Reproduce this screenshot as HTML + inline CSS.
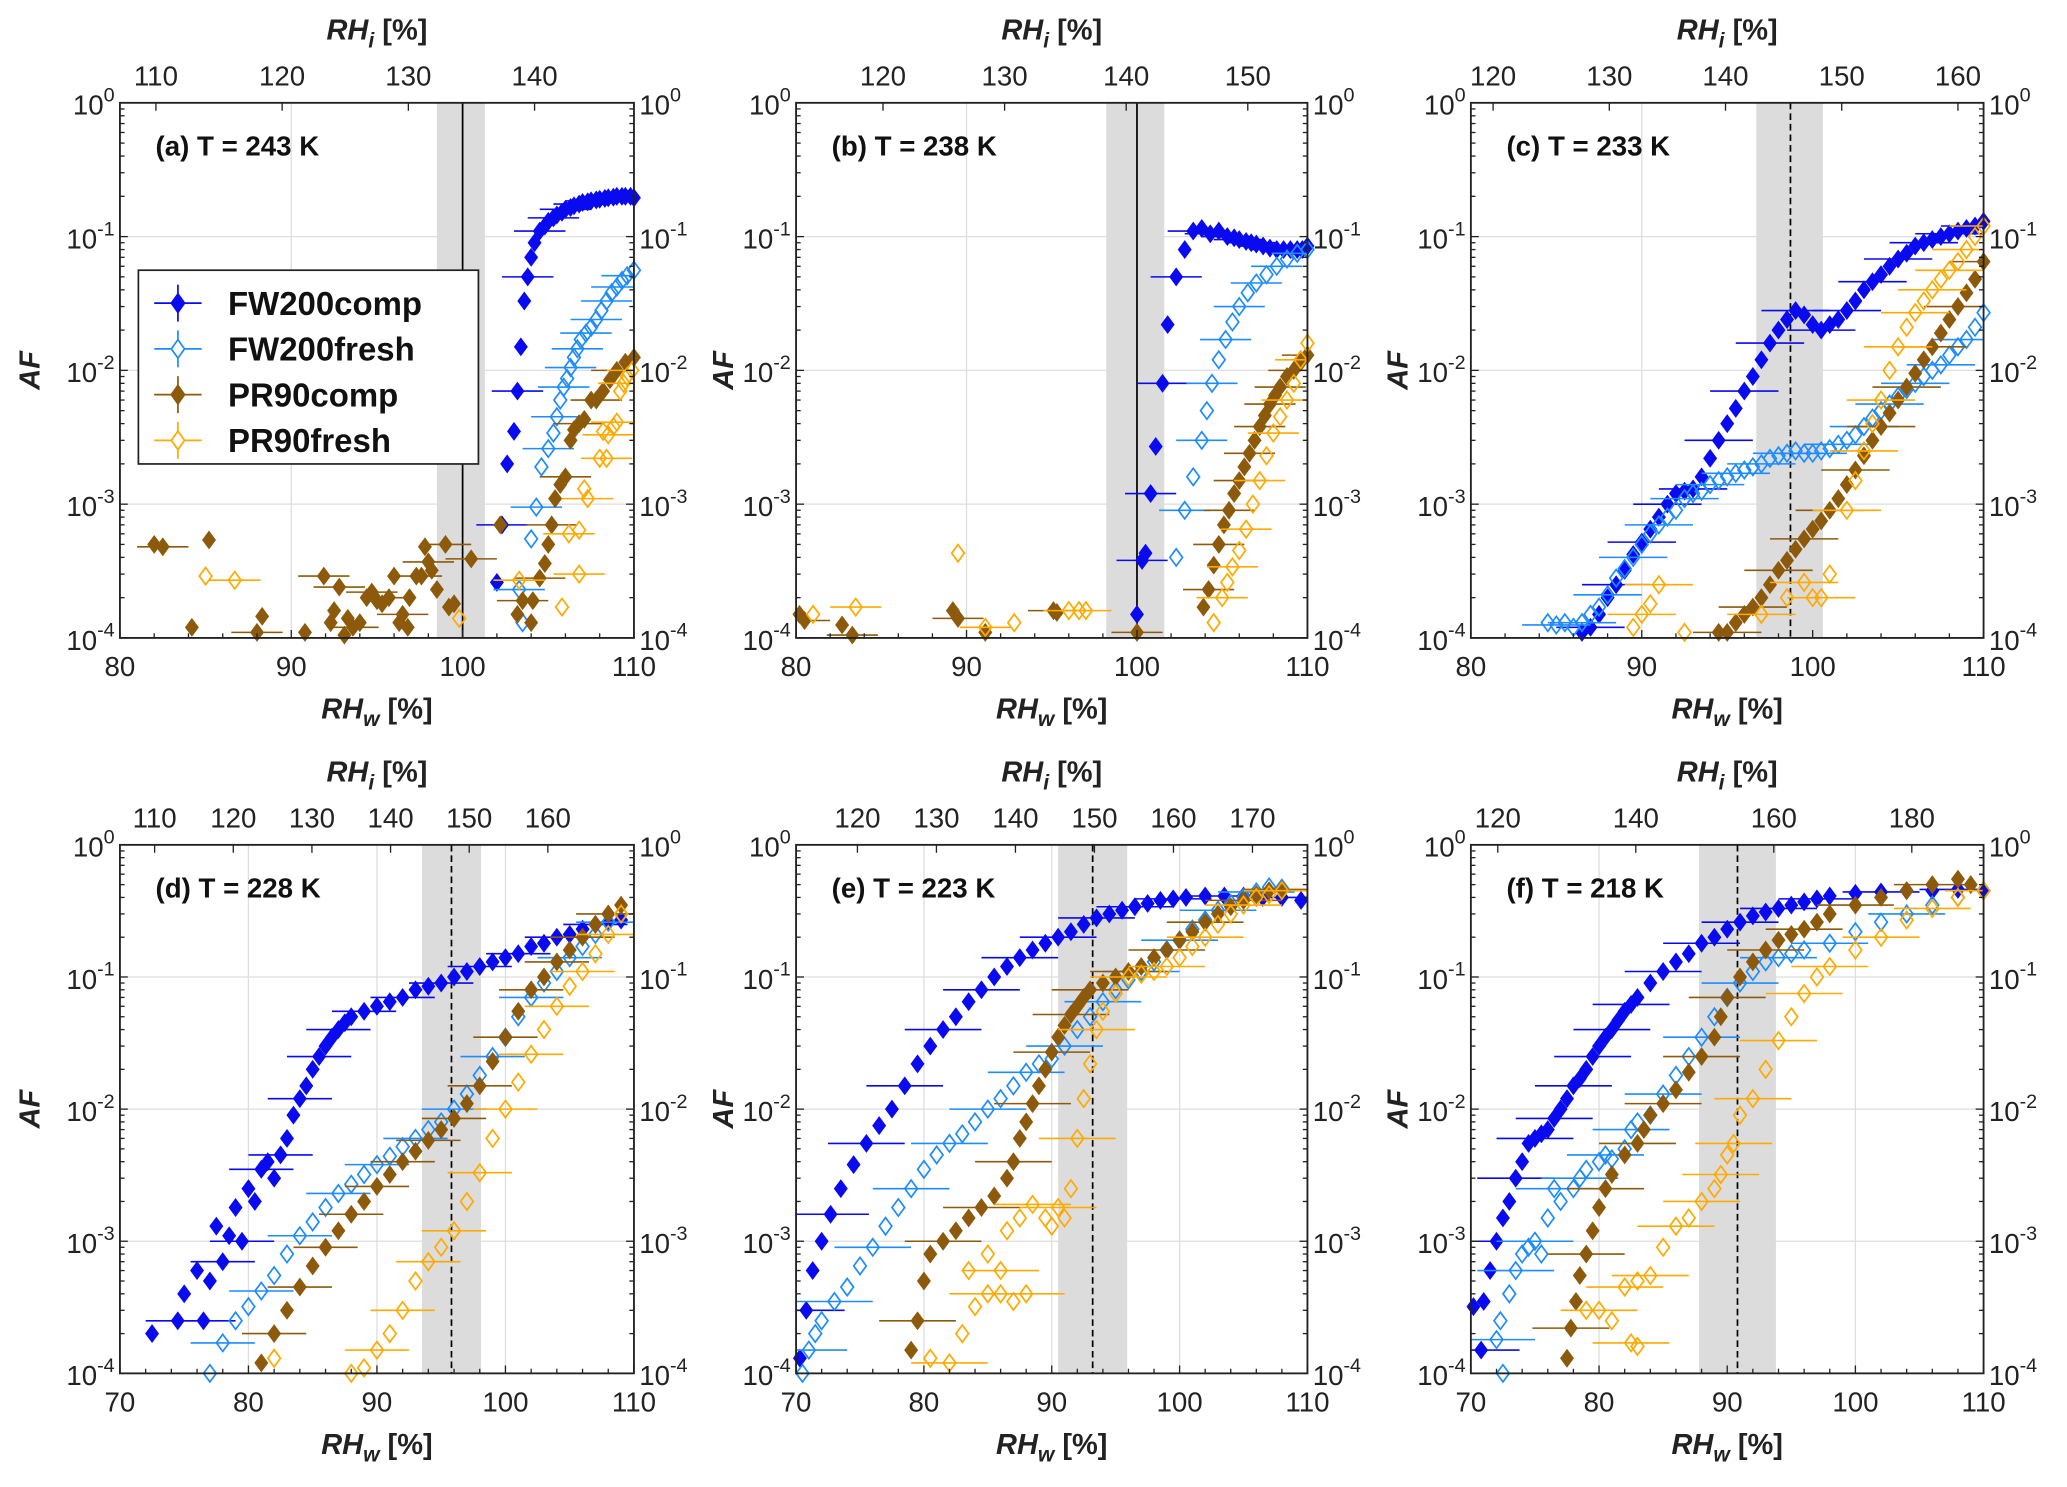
<!DOCTYPE html>
<html><head><meta charset="utf-8"><style>
html,body{margin:0;padding:0;background:#fff;}
svg{display:block;font-family:"Liberation Sans",Arial,sans-serif;}
</style></head><body>
<svg id="fig" xmlns="http://www.w3.org/2000/svg" width="2067" height="1487" viewBox="0 0 1568.3 1128.2"></svg>
<script>
// ---------- data ----------
const panelLabels = ["(a) T = 243 K","(b) T = 238 K","(c) T = 233 K","(d) T = 228 K","(e) T = 223 K","(f) T = 218 K"];
const xMinVals = [80,80,80,70,70,70];
const xTickVals = [[80,90,100,110],[80,90,100,110],[80,90,100,110],[70,80,90,100,110],[70,80,90,100,110],[70,80,90,100,110]];
const topTickVals = [[110,120,130,140],[120,130,140,150],[120,130,140,150,160],[110,120,130,140,150,160],[120,130,140,150,160,170],[120,140,160,180]];
// RHw (bottom axis) equivalents of the first and last RHi tick
const topTickRHw = [[82.1,104.2],[85.1,106.5],[81.3,108.5],[72.7,103.3],[74.8,105.7],[72.1,104.4]];
const bandLo = [98.5,98.2,96.7,93.5,90.5,87.8];
const bandHi = [101.3,101.6,100.6,98.1,95.9,93.8];
const refLine = [100,100,98.7,95.8,93.2,90.8];
const refDashed = [false,false,true,true,true,true];
const yTickExps = [0,-1,-2,-3,-4];
const seriesNames = ["FW200comp","FW200fresh","PR90comp","PR90fresh"];
const seriesColors = ["#0a0af0","#1e8cff","#8c5a0a","#ffaa00"];
const seriesFilled = [true,false,true,false];
const errHalf = [[1.5,1.5,1.5,1.5],[1.5,1.5,1.5,1.5],[2,2,2,2],[2.5,2.5,2.5,2.5],[3,3,3,3],[3,3,3,3]];

const a_fwComp=[[102,2.6e-4],[102.3,7e-4],[102.6,2e-3],[103,3.5e-3],[103.2,7e-3],[103.4,1.5e-2],[103.6,3.3e-2],[103.8,5e-2],[104,7e-2],[104.2,9e-2],[104.5,1.1e-1],[104.8,1.2e-1],[105,1.3e-1],[105.3,1.38e-1],[105.5,1.45e-1],[105.8,1.52e-1],[106,1.6e-1],[106.3,1.65e-1],[106.5,1.7e-1],[106.8,1.75e-1],[107,1.8e-1],[107.3,1.82e-1],[107.5,1.85e-1],[107.8,1.88e-1],[108,1.9e-1],[108.3,1.93e-1],[108.5,1.95e-1],[108.8,1.97e-1],[109,2e-1],[109.3,2e-1],[109.5,2e-1],[109.8,2e-1],[110,1.95e-1]];
const a_fwFresh=[[103.5,1.3e-4],[103.3,2.3e-4],[104,5.5e-4],[104.3,9.5e-4],[104.6,1.9e-3],[105,2.6e-3],[105.3,3.4e-3],[105.5,4.5e-3],[105.7,6e-3],[105.9,7.5e-3],[106.1,8.7e-3],[106.3,1.05e-2],[106.5,1.25e-2],[106.7,1.45e-2],[106.9,1.7e-2],[107.2,1.9e-2],[107.5,2.1e-2],[107.8,2.4e-2],[108.1,2.8e-2],[108.4,3.3e-2],[108.7,3.8e-2],[109,4.2e-2],[109.3,4.7e-2],[109.6,5.1e-2],[110,5.6e-2]];
const a_prComp=[[82,5e-4],[82.5,4.8e-4],[84.2,1.2e-4],[85.2,5.4e-4],[88,1.1e-4],[88.3,1.45e-4],[90.8,1.1e-4],[91.9,2.9e-4],[92.3,1.3e-4],[92.5,1.6e-4],[92.8,2.4e-4],[93.1,1.05e-4],[93.3,1.4e-4],[93.6,1.2e-4],[94,1.3e-4],[94.4,2e-4],[94.7,2.2e-4],[95,1.9e-4],[95.3,1.8e-4],[95.7,2e-4],[96,2.9e-4],[96.3,1.3e-4],[96.5,1.5e-4],[96.8,1.2e-4],[96.9,2e-4],[97.3,2.9e-4],[97.6,2.9e-4],[97.8,4.8e-4],[98,3.7e-4],[98.2,3.2e-4],[98.5,2.3e-4],[99,5e-4],[99.2,1.7e-4],[99.5,1.8e-4],[100.5,3.9e-4],[102.2,7e-4],[103.2,1.5e-4],[103.5,1.9e-4],[104,1.3e-4],[104.1,1.9e-4],[104.5,2.8e-4],[104.8,3.6e-4],[105,5e-4],[105.2,7e-4],[105.4,1.1e-3],[105.7,1.4e-3],[106,1.6e-3],[106.3,3e-3],[106.5,3.6e-3],[106.8,4e-3],[107.1,4.3e-3],[107.5,6e-3],[107.8,6e-3],[108.2,7e-3],[108.6,8.5e-3],[109,1e-2],[109.5,1.15e-2],[110,1.25e-2]];
const a_prFresh=[[85,2.9e-4],[86.7,2.7e-4],[99.8,1.4e-4],[103.3,2.7e-4],[105.8,1.7e-4],[106.2,6e-4],[106.8,6.4e-4],[106.8,3e-4],[107.1,1.3e-3],[107.3,1.1e-3],[108,2.2e-3],[108.4,2.2e-3],[108.2,3.5e-3],[108.5,3.3e-3],[108.8,3.8e-3],[109,4.1e-3],[109.2,7e-3],[109.4,8e-3],[109.6,9e-3],[109.9,1e-2]];

const b_fwComp=[[100,1.5e-4],[100.3,3.8e-4],[100.5,4.3e-4],[100.8,1.2e-3],[101.1,2.7e-3],[101.5,8e-3],[101.8,2.2e-2],[102.3,5e-2],[102.8,8e-2],[103.3,1.1e-1],[103.8,1.15e-1],[104.3,1.05e-1],[104.8,1.1e-1],[105.3,1e-1],[105.7,9.8e-2],[106,9.5e-2],[106.4,9.2e-2],[106.7,9e-2],[107,8.8e-2],[107.4,8.5e-2],[107.8,8.2e-2],[108.2,8e-2],[108.6,8e-2],[109,8e-2],[109.4,8e-2],[109.7,8e-2],[110,8.5e-2]];
const b_fwFresh=[[102.3,4e-4],[102.8,9e-4],[103.3,1.6e-3],[103.8,3e-3],[104.1,5e-3],[104.4,8e-3],[104.8,1.2e-2],[105.2,1.7e-2],[105.6,2.3e-2],[106,3e-2],[106.5,3.8e-2],[107,4.5e-2],[107.6,5.2e-2],[108.2,6e-2],[108.8,6.8e-2],[109.4,7.5e-2],[110,8e-2]];
const b_prComp=[[80.2,1.5e-4],[80.5,1.35e-4],[82.7,1.25e-4],[83.3,1.05e-4],[89.2,1.6e-4],[89.5,1.4e-4],[91.1,1.1e-4],[95.1,1.6e-4],[95.3,1.55e-4],[100,1.1e-4],[103.9,1.7e-4],[104.2,2.3e-4],[104.5,3.5e-4],[104.8,5e-4],[105.1,7e-4],[105.4,9e-4],[105.7,1.2e-3],[106,1.5e-3],[106.3,1.9e-3],[106.6,2.4e-3],[106.9,3e-3],[107.2,3.8e-3],[107.5,4.6e-3],[107.8,5.6e-3],[108.1,6.5e-3],[108.4,7.5e-3],[108.8,9e-3],[109.2,1e-2],[109.6,1.15e-2],[110,1.3e-2]];
const b_prFresh=[[81,1.5e-4],[83.5,1.7e-4],[89.5,4.3e-4],[91.1,1.2e-4],[92.8,1.3e-4],[96,1.6e-4],[96.6,1.6e-4],[97,1.6e-4],[104.5,1.3e-4],[105,2e-4],[105.3,2.6e-4],[105.6,3.4e-4],[106,4.5e-4],[106.4,6.5e-4],[106.8,1e-3],[107.2,1.5e-3],[107.6,2.3e-3],[108,3.4e-3],[108.4,4.5e-3],[108.8,6e-3],[109.2,8e-3],[109.6,1.2e-2],[110,1.6e-2]];

const c_fwComp=[[86.5,1.1e-4],[87,1.2e-4],[87.5,1.5e-4],[88,2e-4],[88.5,2.5e-4],[89,3.2e-4],[89.5,4.2e-4],[90,5.2e-4],[90.5,6.5e-4],[91,8e-4],[91.5,1e-3],[92,1.2e-3],[92.5,1.25e-3],[93,1.3e-3],[93.5,1.6e-3],[94,2.2e-3],[94.5,3e-3],[95,4e-3],[95.5,5.2e-3],[96,7e-3],[96.5,9e-3],[97,1.2e-2],[97.5,1.6e-2],[98,2e-2],[98.5,2.4e-2],[99,2.8e-2],[99.5,2.6e-2],[100,2.2e-2],[100.5,2e-2],[101,2.2e-2],[101.5,2.4e-2],[102,2.8e-2],[102.5,3.3e-2],[103,4e-2],[103.5,4.6e-2],[104,5.2e-2],[104.5,6e-2],[105,6.8e-2],[105.5,7.5e-2],[106,8.5e-2],[106.5,9e-2],[107,9.5e-2],[107.5,1e-1],[108,1.05e-1],[108.5,1.1e-1],[109,1.15e-1],[109.5,1.2e-1],[110,1.3e-1]];
const c_fwFresh=[[84.5,1.3e-4],[85,1.25e-4],[85.5,1.3e-4],[86,1.2e-4],[86.5,1.3e-4],[87,1.5e-4],[87.5,1.7e-4],[88,2.1e-4],[88.5,2.8e-4],[89,3.3e-4],[89.5,4e-4],[90,5e-4],[90.5,6e-4],[91,7e-4],[91.5,8e-4],[92,9e-4],[92.5,1.1e-3],[93,1.2e-3],[93.5,1.25e-3],[94,1.4e-3],[94.5,1.5e-3],[95,1.6e-3],[95.5,1.7e-3],[96,1.8e-3],[96.5,1.9e-3],[97,2e-3],[97.5,2.2e-3],[98,2.3e-3],[98.5,2.4e-3],[99,2.5e-3],[99.5,2.4e-3],[100,2.4e-3],[100.5,2.5e-3],[101,2.6e-3],[101.5,2.8e-3],[102,3e-3],[102.5,3.3e-3],[103,3.8e-3],[103.5,4.4e-3],[104,5e-3],[104.5,5.6e-3],[105,6.4e-3],[105.5,7.2e-3],[106,8e-3],[106.5,9e-3],[107,1e-2],[107.5,1.1e-2],[108,1.3e-2],[108.5,1.5e-2],[109,1.7e-2],[109.5,2.1e-2],[110,2.7e-2]];
const c_prComp=[[94.5,1.1e-4],[95,1.1e-4],[95.5,1.3e-4],[96,1.5e-4],[96.5,1.7e-4],[97,2e-4],[97.5,2.5e-4],[98,3.2e-4],[98.5,3.8e-4],[99,4.6e-4],[99.5,5.5e-4],[100,6.5e-4],[100.5,7.5e-4],[101,9e-4],[101.5,1.1e-3],[102,1.4e-3],[102.5,1.8e-3],[103,2.3e-3],[103.5,3e-3],[104,3.8e-3],[104.5,4.8e-3],[105,6e-3],[105.5,7.5e-3],[106,9.5e-3],[106.5,1.2e-2],[107,1.5e-2],[107.5,1.9e-2],[108,2.4e-2],[108.5,3e-2],[109,3.8e-2],[109.5,4.8e-2],[110,6.5e-2]];
const c_prFresh=[[89.5,1.2e-4],[90,1.5e-4],[90.5,1.8e-4],[91,2.5e-4],[92.5,1.1e-4],[97,1.5e-4],[98.5,2e-4],[99.5,2.6e-4],[100,2e-4],[100.5,2e-4],[101,3e-4],[102,9e-4],[102.5,1.5e-3],[103,2.5e-3],[103.5,4e-3],[104,6e-3],[104.5,1e-2],[105,1.5e-2],[105.5,2.1e-2],[106,2.7e-2],[106.5,3.3e-2],[107,4e-2],[107.5,4.8e-2],[108,5.6e-2],[108.5,6.5e-2],[109,8e-2],[109.5,1e-1],[110,1.2e-1]];

const d_fwComp=[[72.5,2e-4],[74.5,2.5e-4],[75,4e-4],[76,6e-4],[76.5,2.5e-4],[77,5e-4],[77.5,1.3e-3],[78,7e-4],[78.5,1.1e-3],[79,1.8e-3],[79.5,1e-3],[80,2.5e-3],[80.5,2e-3],[81,3.5e-3],[81.5,4e-3],[82,3e-3],[82.5,4.5e-3],[83,6e-3],[83.5,9e-3],[84,1.2e-2],[84.5,1.5e-2],[85,2e-2],[85.5,2.5e-2],[86,3e-2],[86.5,3.5e-2],[87,4e-2],[87.5,4.5e-2],[88,5e-2],[89,5.5e-2],[90,6e-2],[91,6.5e-2],[92,7e-2],[93,8e-2],[94,8.5e-2],[95,9e-2],[96,1e-1],[97,1.1e-1],[98,1.2e-1],[99,1.3e-1],[100,1.4e-1],[101,1.5e-1],[102,1.7e-1],[103,1.8e-1],[104,2e-1],[105,2.1e-1],[106,2.3e-1],[107,2.5e-1],[108,2.6e-1],[109,2.7e-1]];
const d_fwFresh=[[77,1e-4],[78,1.7e-4],[79,2.5e-4],[80,3.2e-4],[81,4.2e-4],[82,5.5e-4],[83,8e-4],[84,1.1e-3],[85,1.4e-3],[86,1.8e-3],[87,2.3e-3],[88,2.7e-3],[89,3.2e-3],[90,3.8e-3],[91,4.4e-3],[92,5.2e-3],[93,6e-3],[94,7e-3],[95,8e-3],[96,1e-2],[97,1.3e-2],[98,1.8e-2],[99,2.5e-2],[100,3.5e-2],[101,5e-2],[102,7e-2],[103,9e-2],[104,1.1e-1],[105,1.4e-1],[106,1.7e-1],[107,2.1e-1],[108,2.6e-1],[109,3e-1]];
const d_prComp=[[81,1.2e-4],[82,2e-4],[83,3e-4],[84,4.5e-4],[85,6.5e-4],[86,9e-4],[87,1.2e-3],[88,1.6e-3],[89,2e-3],[90,2.6e-3],[91,3.2e-3],[92,4e-3],[93,4.8e-3],[94,5.8e-3],[95,7e-3],[96,8.5e-3],[97,1.1e-2],[98,1.5e-2],[99,2.3e-2],[100,3.5e-2],[101,5.5e-2],[102,8e-2],[103,1e-1],[104,1.3e-1],[105,1.6e-1],[106,2e-1],[107,2.5e-1],[108,3e-1],[109,3.5e-1]];
const d_prFresh=[[82,1.3e-4],[88,1e-4],[89,1.1e-4],[90,1.5e-4],[91,2e-4],[92,3e-4],[93,5e-4],[94,7e-4],[95,9e-4],[96,1.2e-3],[97,2e-3],[98,3.3e-3],[99,6e-3],[100,1e-2],[101,1.6e-2],[102,2.6e-2],[103,4e-2],[104,6e-2],[105,8.5e-2],[106,1.1e-1],[107,1.5e-1],[108,2.1e-1],[109,3e-1]];

const e_fwComp=[[70.3,1.3e-4],[70.8,3e-4],[71.3,6e-4],[72,1e-3],[72.7,1.6e-3],[73.5,2.5e-3],[74.5,3.8e-3],[75.5,5.5e-3],[76.5,7.5e-3],[77.5,1e-2],[78.5,1.5e-2],[79.5,2.2e-2],[80.5,3e-2],[81.5,4e-2],[82.5,5e-2],[83.5,6.5e-2],[84.5,8e-2],[85.5,1e-1],[86.5,1.2e-1],[87.5,1.4e-1],[88.5,1.6e-1],[89.5,1.8e-1],[90.5,2e-1],[91.5,2.2e-1],[92.5,2.5e-1],[93.5,2.8e-1],[94.5,3e-1],[95.5,3.2e-1],[96.5,3.4e-1],[97.5,3.6e-1],[98.5,3.8e-1],[99.5,3.9e-1],[100.5,4e-1],[102,4.1e-1],[103.5,4.1e-1],[105,4.1e-1],[106.5,4e-1],[108,4e-1],[109.5,3.8e-1]];
const e_fwFresh=[[70.5,1e-4],[71,1.5e-4],[71.5,2e-4],[72,2.5e-4],[73,3.5e-4],[74,4.5e-4],[75,6.5e-4],[76,9e-4],[77,1.3e-3],[78,1.8e-3],[79,2.5e-3],[80,3.5e-3],[81,4.5e-3],[82,5.5e-3],[83,6.5e-3],[84,8e-3],[85,1e-2],[86,1.2e-2],[87,1.5e-2],[88,1.9e-2],[89,2.2e-2],[90,2.4e-2],[91,3e-2],[92,4e-2],[93,5e-2],[94,6.5e-2],[95,8e-2],[96,9.5e-2],[97,1.1e-1],[98,1.3e-1],[99,1.6e-1],[100,1.9e-1],[101,2.3e-1],[102,2.7e-1],[103,3.2e-1],[104,3.6e-1],[105,4e-1],[106,4.4e-1],[107,4.8e-1],[108,4.7e-1]];
const e_prComp=[[79,1.5e-4],[79.5,2.5e-4],[80,5e-4],[80.5,8e-4],[81.5,1e-3],[82.5,1.2e-3],[83.5,1.5e-3],[84.5,1.8e-3],[85.5,2.2e-3],[86.5,3e-3],[87,4e-3],[87.5,6e-3],[88,8e-3],[88.5,1.1e-2],[89,1.5e-2],[89.5,2e-2],[90,2.7e-2],[90.5,3.5e-2],[91,4.3e-2],[91.5,5.2e-2],[92,6e-2],[92.5,7e-2],[93,8e-2],[94,9e-2],[95,1e-1],[96,1.1e-1],[97,1.2e-1],[98,1.4e-1],[99,1.6e-1],[100,1.9e-1],[101,2.2e-1],[102,2.6e-1],[103,3e-1],[104,3.4e-1],[105,3.8e-1],[106,4.2e-1],[107,4.5e-1],[108,4.6e-1]];
const e_prFresh=[[80.5,1.3e-4],[82,1.2e-4],[83,2e-4],[84,3.2e-4],[85,4e-4],[86,4e-4],[87,3.5e-4],[88,4e-4],[83.5,6e-4],[85,8e-4],[86,6e-4],[86.5,1.2e-3],[87.5,1.5e-3],[88.5,1.9e-3],[89.5,1.5e-3],[90,1.3e-3],[90.5,1.8e-3],[91,1.5e-3],[91.5,2.5e-3],[92,6e-3],[92.5,1.2e-2],[93,2.2e-2],[93.5,4e-2],[94,5.5e-2],[95,7.5e-2],[96,1e-1],[97,1.05e-1],[98,1.1e-1],[99,1.2e-1],[100,1.4e-1],[101,1.7e-1],[102,2e-1],[103,2.5e-1],[104,3e-1],[105,3.5e-1],[106,4e-1],[107,4.2e-1],[108,4.5e-1]];

const f_fwComp=[[70.2,3.2e-4],[70.8,1.5e-4],[71,3.5e-4],[71.5,6e-4],[72,1e-3],[72.5,1.5e-3],[73,2e-3],[73.5,3e-3],[74,4e-3],[74.5,5.5e-3],[75,6e-3],[75.5,6.5e-3],[76,7e-3],[76.5,8.5e-3],[77,1e-2],[77.5,1.2e-2],[78,1.5e-2],[78.5,1.7e-2],[79,2e-2],[79.5,2.5e-2],[80,3e-2],[80.5,3.5e-2],[81,4e-2],[81.5,4.7e-2],[82,5.5e-2],[82.5,6.2e-2],[83,7e-2],[84,9e-2],[85,1.1e-1],[86,1.3e-1],[87,1.5e-1],[88,1.8e-1],[89,2e-1],[90,2.3e-1],[91,2.6e-1],[92,2.9e-1],[93,3.1e-1],[94,3.3e-1],[95,3.5e-1],[96,3.7e-1],[97,3.9e-1],[98,4.1e-1],[100,4.3e-1],[102,4.4e-1],[104,4.5e-1],[106,4.5e-1],[108,4.6e-1],[110,4.5e-1]];
const f_fwFresh=[[72.5,1e-4],[72,1.8e-4],[72.3,2.5e-4],[73,4e-4],[73.5,6e-4],[74,8e-4],[74.5,9e-4],[75,1e-3],[75.5,8e-4],[76,1.5e-3],[76.5,2.5e-3],[77,2e-3],[78,2.5e-3],[78.5,3e-3],[79,3.5e-3],[80,4e-3],[80.5,4.5e-3],[81,4.2e-3],[82,5e-3],[82.5,7e-3],[83,8e-3],[84,9e-3],[85,1.3e-2],[86,1.8e-2],[87,2.5e-2],[88,3.5e-2],[89,5e-2],[90,7e-2],[91,9e-2],[92,1.1e-1],[93,1.3e-1],[94,1.4e-1],[95,1.5e-1],[96,1.6e-1],[98,1.8e-1],[100,2.2e-1],[102,2.6e-1],[104,3e-1],[106,3.5e-1],[108,4e-1],[110,4.5e-1]];
const f_prComp=[[77.5,1.3e-4],[77.8,2.2e-4],[78.2,3.5e-4],[78.5,5.5e-4],[79,8e-4],[79.5,1.2e-3],[80,1.8e-3],[80.5,2.5e-3],[81,3.2e-3],[82,4.5e-3],[83,5.5e-3],[83.5,7e-3],[84,9e-3],[85,1.1e-2],[86,1.4e-2],[87,1.9e-2],[88,2.5e-2],[89,3.5e-2],[89.5,5e-2],[90,7e-2],[91,1e-1],[92,1.3e-1],[93,1.6e-1],[94,1.9e-1],[95,2.1e-1],[96,2.3e-1],[97,2.6e-1],[98,3e-1],[100,3.5e-1],[102,4e-1],[104,4.5e-1],[106,5e-1],[108,5.5e-1],[109,5e-1]];
const f_prFresh=[[79,3e-4],[80,3e-4],[81,2.5e-4],[82.5,1.7e-4],[83,1.6e-4],[82,4.5e-4],[83,5e-4],[84,5.5e-4],[85,9e-4],[86,1.3e-3],[87,1.5e-3],[88,2e-3],[89,2.5e-3],[89.5,3.2e-3],[90,4.5e-3],[90.5,5.5e-3],[91,9e-3],[92,1.2e-2],[93,2e-2],[94,3.3e-2],[95,5e-2],[96,7.5e-2],[97,1e-1],[98,1.2e-1],[100,1.6e-1],[102,2e-1],[104,2.7e-1],[106,3.3e-1],[108,4e-1],[110,4.5e-1]];

const panelSeries=[[a_fwComp,a_fwFresh,a_prComp,a_prFresh],[b_fwComp,b_fwFresh,b_prComp,b_prFresh],[c_fwComp,c_fwFresh,c_prComp,c_prFresh],[d_fwComp,d_fwFresh,d_prComp,d_prFresh],[e_fwComp,e_fwFresh,e_prComp,e_prFresh],[f_fwComp,f_fwFresh,f_prComp,f_prFresh]];

// ---------- layout ----------
const colL=[91,604,1116], colR=[481,992,1505];
const rowT=[78,641], rowB=[484,1042];
const afOffset=[69,56,56];
const NS="http://www.w3.org/2000/svg";
const svg=document.getElementById('fig');
function mk(tag,attrs,parent){const e=document.createElementNS(NS,tag);for(const k in attrs)e.setAttribute(k,attrs[k]);(parent||svg).appendChild(e);return e;}

for(let p=0;p<6;p++){
  const col=p%3,row=Math.floor(p/3);
  const L=colL[col],R=colR[col],T=rowT[row],B=rowB[row];
  const x0=xMinVals[p],x1=110;
  const sx=v=>L+(v-x0)/(x1-x0)*(R-L);
  const sy=v=>B-(Math.log10(v)+4)/4*(B-T);
  const g=mk('g',{});
  
  
  xTickVals[p].forEach(v=>{const l=mk('line',{x1:sx(v),x2:sx(v),y1:T,y2:B,stroke:'#dedede','stroke-width':1},g);
    });
  yTickExps.forEach(e=>{const l=mk('line',{x1:L,x2:R,y1:sy(Math.pow(10,e)),y2:sy(Math.pow(10,e)),stroke:'#dedede','stroke-width':1},g);
    });
  const band=mk('rect',{x:sx(bandLo[p]),y:T,width:sx(bandHi[p])-sx(bandLo[p]),height:B-T,fill:'#dcdcdc'},g);
  
  const rl=mk('line',{x1:sx(refLine[p]),x2:sx(refLine[p]),y1:T,y2:B,stroke:'#000','stroke-width':1.3},g);
  if(refDashed[p])rl.setAttribute('stroke-dasharray','5,3');
  
  panelSeries[p].forEach((data,s)=>{
    const sg=mk('g',{},g);
    
    
    const c=seriesColors[s],eh=errHalf[p][s];
    const step=data.length>30?3:2;
    data.forEach((d,i)=>{
      if(i%step===1){
        const xa=Math.max(x0,d[0]-eh),xb=Math.min(110,d[0]+eh);
        const el=mk('line',{x1:sx(xa),x2:sx(xb),y1:sy(d[1]),y2:sy(d[1]),stroke:c,'stroke-width':1.2},sg);
        
      }
    });
    data.forEach(d=>{
      const x=sx(d[0]),y=sy(d[1]);
      if(y>B+8||y<T-8)return;
      const m=mk('path',{d:`M${x},${y-6.5}L${x+4.8},${y}L${x},${y+6.5}L${x-4.8},${y}Z`,
        fill:seriesFilled[s]?c:'none',stroke:c,'stroke-width':seriesFilled[s]?0.8:1.3},sg);
      
    });
  });
  const box=mk('rect',{x:L,y:T,width:R-L,height:B-T,fill:'none',stroke:'#222','stroke-width':1.4},g);
  
  for(let v=x0;v<=110;v+=2){
    const len=(v%10===0)?6:3.5;
    mk('line',{x1:sx(v),x2:sx(v),y1:B,y2:B-len,stroke:'#222','stroke-width':1},g);
  }
  xTickVals[p].forEach(v=>{const t=mk('text',{x:sx(v),y:B+29,'text-anchor':'middle','font-size':21,fill:'#222'},g);t.textContent=v;
    });
  const tv=topTickVals[p],tr=topTickRHw[p];
  const st=v=>sx(tr[0]+(v-tv[0])/(tv[tv.length-1]-tv[0])*(tr[1]-tr[0]));
  tv.forEach(v=>{mk('line',{x1:st(v),x2:st(v),y1:T,y2:T+6,stroke:'#222','stroke-width':1},g);
    const t=mk('text',{x:st(v),y:T-13,'text-anchor':'middle','font-size':21,fill:'#222'},g);t.textContent=v;
    });
  for(let e=-4;e<0;e++){for(let k=1;k<10;k++){
    const y=sy(k*Math.pow(10,e));const len=k===1?6:3.5;
    mk('line',{x1:L,x2:L+len,y1:y,y2:y,stroke:'#222','stroke-width':1},g);
    mk('line',{x1:R,x2:R-len,y1:y,y2:y,stroke:'#222','stroke-width':1},g);}}
  yTickExps.forEach(e=>{
    const y=sy(Math.pow(10,e));
    const t1=mk('text',{x:L-4,y:y+9,'text-anchor':'end','font-size':21,fill:'#222'},g);
    t1.innerHTML='10<tspan dy="-10" font-size="15">'+e+'</tspan>';
    
    const t2=mk('text',{x:R+4,y:y+9,'text-anchor':'start','font-size':21,fill:'#222'},g);
    t2.innerHTML='10<tspan dy="-10" font-size="15">'+e+'</tspan>';
    
  });
  const cx=(L+R)/2;
  const xt=mk('text',{x:cx,y:B+61,'text-anchor':'middle','font-size':22,'font-weight':'bold',fill:'#222'},g);
  xt.innerHTML='<tspan font-style="italic">RH</tspan><tspan font-style="italic" font-size="16" dy="6">w</tspan><tspan dy="-6"> [%]</tspan>';
  
  const tt=mk('text',{x:cx,y:T-48,'text-anchor':'middle','font-size':22,'font-weight':'bold',fill:'#222'},g);
  tt.innerHTML='<tspan font-style="italic">RH</tspan><tspan font-style="italic" font-size="16" dy="6">i</tspan><tspan dy="-6"> [%]</tspan>';
  
  const ay=(T+B)/2, ax=L-afOffset[col]+8;
  const yt=mk('text',{x:ax,y:ay,'text-anchor':'middle','font-size':22,'font-weight':'bold','font-style':'italic',fill:'#222',transform:`rotate(-90 ${ax} ${ay})`},g);
  yt.textContent='AF';
  
  const pl=mk('text',{x:L+27,y:T+40,'font-size':21,'font-weight':'bold',fill:'#111'},g);
  pl.textContent=panelLabels[p];
  
}
const lg=mk('g',{});


mk('rect',{x:105,y:205,width:258,height:147,fill:'#fff',stroke:'#222','stroke-width':1.3},lg);
seriesNames.forEach((n,s)=>{
  const y=230+s*34.7,x=135,c=seriesColors[s];
  const eg=mk('g',{},lg);
  
  
  mk('line',{x1:x-18,x2:x+18,y1:y,y2:y,stroke:c,'stroke-width':1.3},eg);
  mk('line',{x1:x,x2:x,y1:y-14,y2:y+14,stroke:c,'stroke-width':1.3},eg);
  mk('path',{d:`M${x},${y-7}L${x+5},${y}L${x},${y+7}L${x-5},${y}Z`,fill:seriesFilled[s]?c:'#fff',stroke:c,'stroke-width':1.3},eg);
  const t=mk('text',{x:173,y:y+9,'font-size':25,'font-weight':'bold',fill:'#111'},eg);t.textContent=n;
});
</script>
</body></html>
